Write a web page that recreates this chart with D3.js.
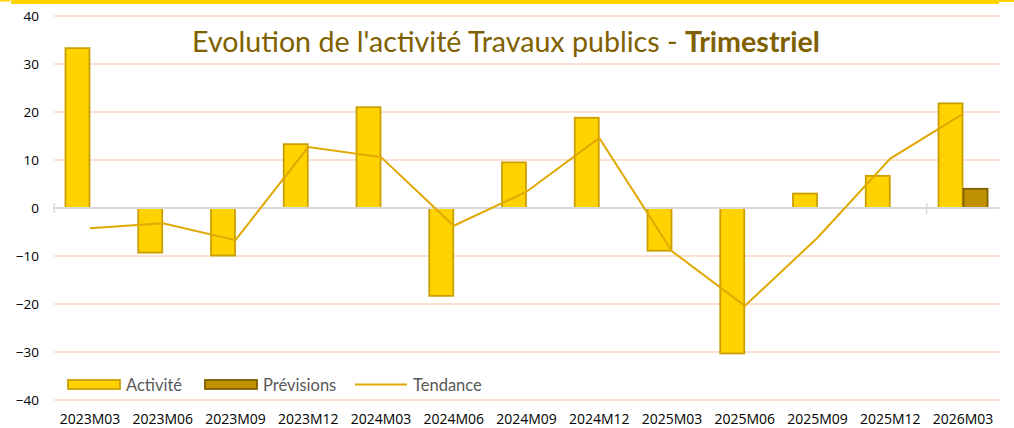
<!DOCTYPE html>
<html><head><meta charset="utf-8">
<script src="https://cdn.jsdelivr.net/npm/d3@7"></script>
<style>body{margin:0;background:#fff;}svg{display:block;}</style>
</head><body>
<svg id="c" width="1014" height="428"></svg>
<script>
const categories = ["2023M03","2023M06","2023M09","2023M12","2024M03","2024M06","2024M09","2024M12","2025M03","2025M06","2025M09","2025M12","2026M03"];
const activite = [33.3,-9.3,-9.9,13.3,21.0,-18.3,9.5,18.8,-8.9,-30.3,3.0,6.7,21.8];
const previsions = [null,null,null,null,null,null,null,null,null,null,null,null,4.0];
const tendance = [-4.2,-3.2,-6.7,12.7,10.6,-3.7,3.4,14.6,-9.0,-20.4,-6.2,10.3,19.6];
const yTicks = [40,30,20,10,0,-10,-20,-30,-40];

const svg = d3.select("#c");
const x = d3.scaleBand().domain(categories).range([53.6, 999.4]).padding(0);
const y = d3.scaleLinear().domain([-40, 40]).range([400, 16]);
const bw = x.bandwidth();
const cx = c => x(c) + bw / 2;

// top yellow frame edge
svg.append("rect").attr("x", 0).attr("y", 0).attr("width", 10).attr("height", 1.5).attr("fill", "#FFD200");
svg.append("rect").attr("x", 11).attr("y", 0).attr("width", 988).attr("height", 4).attr("fill", "#FFD200");
svg.append("rect").attr("x", 999).attr("y", 0).attr("width", 15).attr("height", 2).attr("fill", "#FFD200");

// gridlines
svg.append("g").selectAll("line").data(yTicks.filter(d => d !== 0)).join("line")
  .attr("x1", 54).attr("x2", 999.4)
  .attr("y1", d => y(d)).attr("y2", d => y(d))
  .attr("stroke", "#F9D7C4").attr("stroke-width", 1.6);

// y axis labels
const yAxis = d3.axisLeft(y).tickValues(yTicks).tickSize(0).tickPadding(0);
const gy = svg.append("g").attr("transform", "translate(39,0)").call(yAxis);
gy.select(".domain").remove();
gy.selectAll("text").attr("font-family", "Open Sans").attr("font-size", 13.5).attr("fill", "#000").attr("dy", "0.35em");

// x axis labels
const xAxis = d3.axisBottom(x).tickSize(0).tickPadding(0);
const gx = svg.append("g").attr("transform", "translate(0,424)").call(xAxis);
gx.select(".domain").remove();
gx.selectAll("text").attr("font-family", "Open Sans").attr("font-size", 14).attr("fill", "#000").attr("dy", "0");

// bars activite
const barW = 25;
svg.append("g").selectAll("rect").data(categories.map((c, i) => ({c, v: activite[i]}))).join("rect")
  .attr("x", d => cx(d.c) - barW + 0.5)
  .attr("width", barW - 1)
  .attr("y", d => Math.min(y(d.v), y(0)))
  .attr("height", d => Math.abs(y(d.v) - y(0)))
  .attr("fill", "#FFD200").attr("stroke", "#C9A000").attr("stroke-width", 1.8);

// bars previsions
svg.append("g").selectAll("rect").data(categories.map((c, i) => ({c, v: previsions[i]})).filter(d => d.v !== null)).join("rect")
  .attr("x", d => cx(d.c) + 0.5)
  .attr("width", barW - 1)
  .attr("y", d => Math.min(y(d.v), y(0)))
  .attr("height", d => Math.abs(y(d.v) - y(0)))
  .attr("fill", "#BF9000").attr("stroke", "#7F6000").attr("stroke-width", 1.8);

// zero line + ticks
svg.append("line").attr("x1", 53).attr("x2", 999.4).attr("y1", y(0)).attr("y2", y(0))
  .attr("stroke", "#D9D9D9").attr("stroke-width", 2);
svg.append("line").attr("x1", 54).attr("x2", 54).attr("y1", y(0) - 5).attr("y2", y(0) + 5)
  .attr("stroke", "#D9D9D9").attr("stroke-width", 1.5);
svg.append("line").attr("x1", x(categories[12])).attr("x2", x(categories[12])).attr("y1", y(0) - 5).attr("y2", y(0) + 6)
  .attr("stroke", "#D9D9D9").attr("stroke-width", 1.5);

// trend line
const line = d3.line().x((d, i) => cx(categories[i])).y(d => y(d));
svg.append("path").datum(tendance).attr("d", line)
  .attr("fill", "none").attr("stroke", "#E0A800").attr("stroke-width", 2);

// title
const title = svg.append("text").attr("x", 506).attr("y", 52).attr("text-anchor", "middle")
  .attr("font-family", "Lato").attr("fill", "#7F6000").attr("font-size", 26);
title.append("tspan").text("Evolution de l'activité Travaux publics - ");
title.append("tspan").attr("font-weight", "bold").text("Trimestriel");
const tw = title.node().getComputedTextLength();
title.attr("font-size", 26 * 628 / tw);

// legend
const lg = svg.append("g");
lg.append("rect").attr("x", 68).attr("y", 380).attr("width", 52).attr("height", 9)
  .attr("fill", "#FFD200").attr("stroke", "#C9A000").attr("stroke-width", 1.8);
lg.append("text").attr("x", 126).attr("y", 391).text("Activité");
lg.append("rect").attr("x", 205).attr("y", 380).attr("width", 52).attr("height", 9)
  .attr("fill", "#BF9000").attr("stroke", "#7F6000").attr("stroke-width", 1.8);
lg.append("text").attr("x", 263).attr("y", 391).text("Prévisions");
lg.append("line").attr("x1", 355).attr("x2", 407).attr("y1", 384.5).attr("y2", 384.5)
  .attr("stroke", "#E0A800").attr("stroke-width", 2);
lg.append("text").attr("x", 413).attr("y", 391).text("Tendance");
lg.selectAll("text").attr("font-family", "Lato").attr("font-size", 16.5).attr("fill", "#595959");
</script>
</body></html>
